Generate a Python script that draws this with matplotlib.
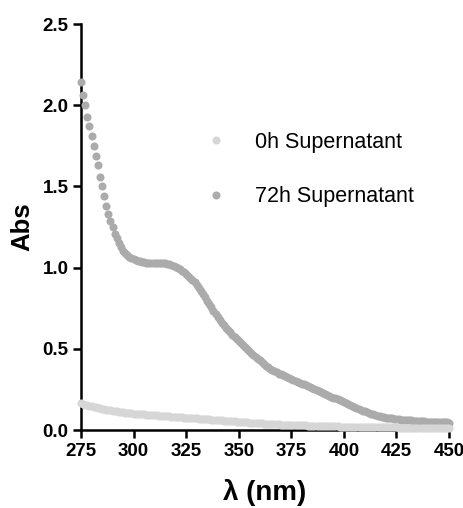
import matplotlib
matplotlib.use("Agg")
import matplotlib.pyplot as plt
import numpy as np

# measurement grid, 1 nm steps
wavelength = np.arange(275, 451, 1)

abs_72h = [
    2.14, 2.06, 2.00, 1.93, 1.87, 1.81, 1.75, 1.69, 1.63, 1.56,
    1.50, 1.44, 1.38, 1.33, 1.29, 1.25, 1.21, 1.18, 1.15, 1.125,
    1.105, 1.09, 1.078, 1.068, 1.06, 1.053, 1.047, 1.042, 1.038, 1.035,
    1.033, 1.031, 1.03, 1.03, 1.03, 1.03, 1.03, 1.03, 1.03, 1.029,
    1.027, 1.024, 1.02, 1.016, 1.011, 1.005, 0.998, 0.99, 0.982, 0.972,
    0.962, 0.95, 0.938, 0.924, 0.909, 0.893, 0.876, 0.858, 0.838, 0.818,
    0.797, 0.776, 0.755, 0.735, 0.715, 0.696, 0.678, 0.661, 0.645, 0.63,
    0.615, 0.601, 0.587, 0.573, 0.56, 0.547, 0.534, 0.522, 0.51, 0.498,
    0.486, 0.474, 0.462, 0.451, 0.44, 0.429, 0.418, 0.407, 0.397, 0.387,
    0.378, 0.37, 0.362, 0.355, 0.348, 0.342, 0.336, 0.331, 0.326, 0.321,
    0.315, 0.309, 0.303, 0.297, 0.292, 0.286, 0.281, 0.275, 0.27, 0.264,
    0.259, 0.253, 0.248, 0.242, 0.236, 0.23, 0.224, 0.218, 0.212, 0.206,
    0.20, 0.195, 0.19, 0.185, 0.179, 0.173, 0.167, 0.161, 0.155, 0.149,
    0.143, 0.137, 0.131, 0.125, 0.12, 0.115, 0.11, 0.105, 0.1, 0.096,
    0.092, 0.089, 0.086, 0.083, 0.08, 0.077, 0.075, 0.073, 0.071, 0.069,
    0.067, 0.066, 0.064, 0.063, 0.062, 0.061, 0.06, 0.059, 0.058, 0.057,
    0.056, 0.055, 0.054, 0.053, 0.052, 0.052, 0.051, 0.05, 0.05, 0.049,
    0.049, 0.048, 0.048, 0.047, 0.047, 0.046,
]

abs_0h = [
    0.165, 0.161, 0.157, 0.153, 0.149, 0.146, 0.143, 0.140, 0.137, 0.134,
    0.131, 0.128, 0.125, 0.123, 0.121, 0.119, 0.117, 0.115, 0.113, 0.111,
    0.109, 0.107, 0.105, 0.104, 0.102, 0.101, 0.1, 0.099, 0.098, 0.097,
    0.096, 0.095, 0.094, 0.093, 0.092, 0.091, 0.09, 0.089, 0.088, 0.087,
    0.086, 0.085, 0.084, 0.083, 0.082, 0.081, 0.08, 0.079, 0.078, 0.077,
    0.076, 0.075, 0.074, 0.073, 0.072, 0.071, 0.07, 0.069, 0.068, 0.067,
    0.066, 0.065, 0.064, 0.063, 0.062, 0.061, 0.06, 0.059, 0.058, 0.057,
    0.056, 0.055, 0.054, 0.053, 0.052, 0.051, 0.05, 0.049, 0.048, 0.047,
    0.046, 0.045, 0.044, 0.043, 0.042, 0.042, 0.041, 0.04, 0.039, 0.038,
    0.038, 0.037, 0.036, 0.036, 0.035, 0.034, 0.034, 0.033, 0.032, 0.032,
    0.031, 0.031, 0.03, 0.03, 0.029, 0.029, 0.028, 0.028, 0.027, 0.027,
    0.026, 0.026, 0.025, 0.025, 0.025, 0.024, 0.024, 0.023, 0.023, 0.023,
    0.022, 0.022, 0.022, 0.021, 0.021, 0.021, 0.02, 0.02, 0.02, 0.02,
    0.019, 0.019, 0.019, 0.019, 0.018, 0.018, 0.018, 0.018, 0.018, 0.017,
    0.017, 0.017, 0.017, 0.017, 0.016, 0.016, 0.016, 0.016, 0.016, 0.016,
    0.016, 0.015, 0.015, 0.015, 0.015, 0.015, 0.015, 0.015, 0.015, 0.015,
    0.014, 0.014, 0.014, 0.014, 0.014, 0.014, 0.014, 0.014, 0.014, 0.014,
    0.014, 0.013, 0.013, 0.013, 0.013, 0.013,
]

x_ticks = [275, 300, 325, 350, 375, 400, 425, 450]
y_ticks = [0.0, 0.5, 1.0, 1.5, 2.0, 2.5]

plt.rcParams["font.family"] = ["Liberation Sans", "DejaVu Sans"]

fig = plt.figure(figsize=(4.64, 5.08), dpi=100)
ax = fig.add_axes([0.1746, 0.1535, 0.7931, 0.7992])

ax.plot(wavelength, abs_72h, "o", ms=5.8, color="#ababab", mec="none",
        label="72h Supernatant", clip_on=False, zorder=3)
ax.plot(wavelength, abs_0h, "o", ms=5.8, color="#d6d6d6", mec="none",
        label="0h Supernatant", clip_on=False, zorder=4)

ax.set_xlim(275, 450)
ax.set_ylim(0, 2.5)
ax.set_xticks(x_ticks)
ax.set_yticks(y_ticks)
ax.set_yticklabels([f"{v:.1f}" for v in y_ticks])

for side in ("top", "right"):
    ax.spines[side].set_visible(False)
for side in ("left", "bottom"):
    ax.spines[side].set_linewidth(1.8)
ax.tick_params(width=1.8, length=6, labelsize=13.5, pad=3)
for lbl in ax.get_xticklabels() + ax.get_yticklabels():
    lbl.set_fontweight("bold")

ax.set_xlabel("λ (nm)", fontsize=20, fontweight="bold", labelpad=14)
ax.set_ylabel("Abs", fontsize=18.5, fontweight="bold", labelpad=6)

handles, labels = ax.get_legend_handles_labels()
fig.legend(handles[::-1], labels[::-1], loc="upper left",
           bbox_to_anchor=(205 / 464, 1 - 132 / 508), frameon=False,
           fontsize=15.5, labelspacing=1.55, handlelength=1.0,
           handletextpad=1.3, borderpad=0, borderaxespad=0)

fig.savefig("out.png", dpi=100)
